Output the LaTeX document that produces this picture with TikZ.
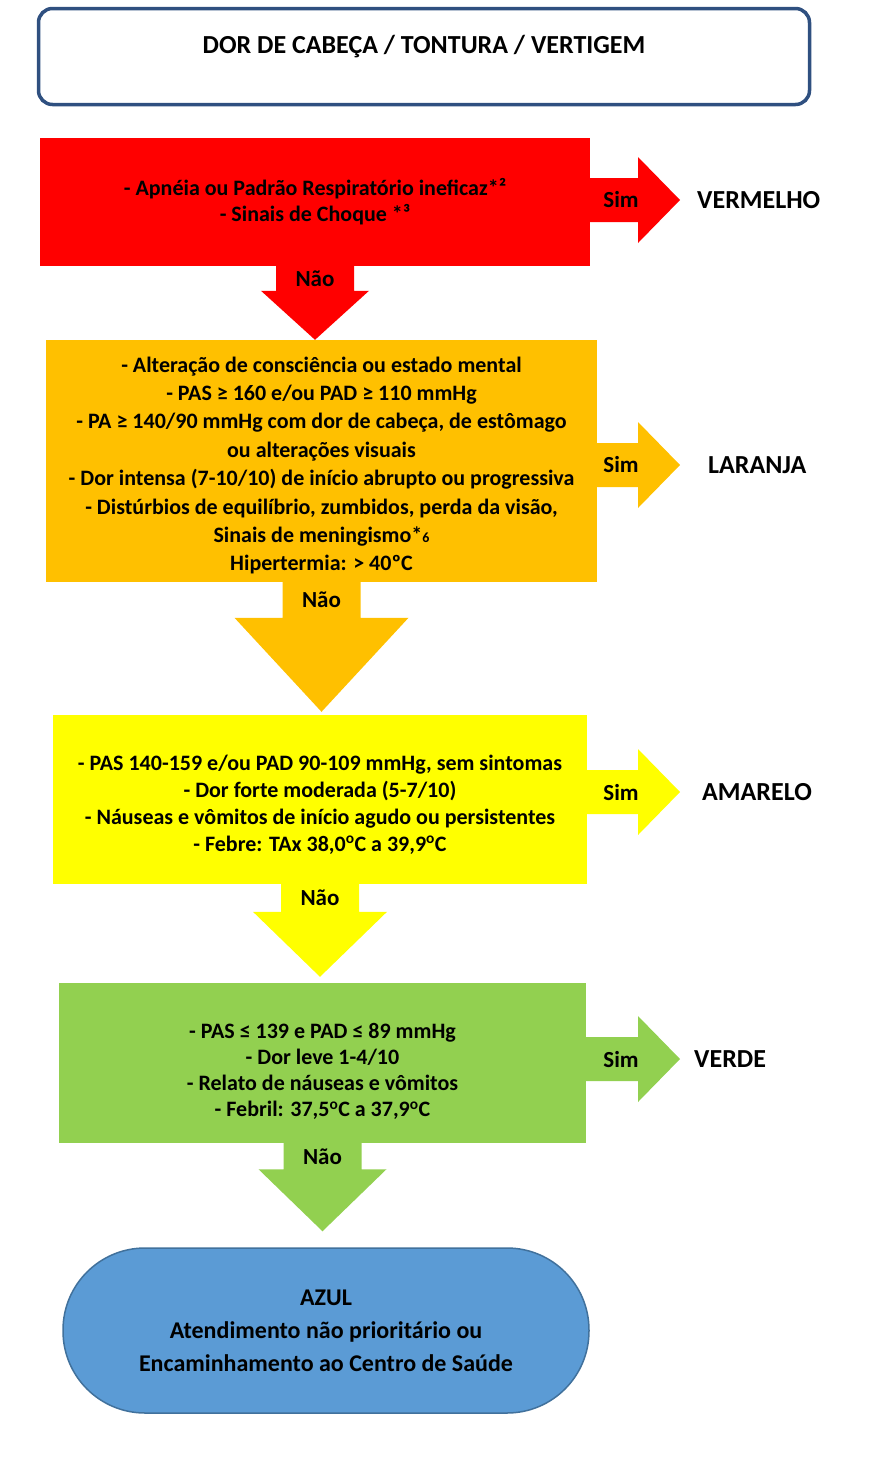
\documentclass[tikz,border=0pt]{standalone}
\usepackage{fontspec}
\setmainfont{Carlito}
\usetikzlibrary{calc,positioning}
\definecolor{titleblue}{HTML}{2F5080}
\definecolor{redlevel}{HTML}{FF0000}
\definecolor{orangelevel}{HTML}{FFC000}
\definecolor{yellowlevel}{HTML}{FFFF00}
\definecolor{greenlevel}{HTML}{92D050}
\definecolor{bluelevel}{HTML}{5B9BD5}
\definecolor{blueedge}{HTML}{41719C}
\tikzset{
  header/.style={draw=titleblue,fill=white,line width=3.5pt,rounded corners=14pt,
    minimum width=771pt,minimum height=96pt,font=\bfseries\fontsize{26}{28}\selectfont,
    text height=17pt,text depth=23pt},
  level/.style={align=center,inner sep=0pt,font=\bfseries\fontsize{22}{27}\selectfont},
  result/.style={anchor=west,inner sep=0pt,font=\bfseries\fontsize{26}{28}\selectfont},
  answer/.style={inner sep=0pt,font=\bfseries\fontsize{23}{24}\selectfont},
  final/.style={draw=blueedge,fill=bluelevel,line width=1.5pt,rounded corners=82pt,
    minimum width=526pt,minimum height=165pt,align=center,
    font=\bfseries\fontsize{24}{33}\selectfont}
}
% box, result, colour
\newcommand{\simarrow}[3]{%
  \fill[#3] let \p1=(#1.east), \p2=(tipline |- #2.west) in
    (\x1,\y2+22pt) -- (\x2-42pt,\y2+22pt) -- (\x2-42pt,\y2+43pt) -- (\x2,\y2)
    -- (\x2-42pt,\y2-43pt) -- (\x2-42pt,\y2-22pt) -- (\x1,\y2-22pt) -- cycle;
  \node[answer] (#1sim) at ([xshift=-59pt]tipline |- #2.west) {Sim};}
% box, tip, head half width, head length, colour
\newcommand{\naoarrow}[5]{%
  \fill[#5] let \p1=(#1.south), \p2=(#2) in
    (\x1-39pt,\y1) -- (\x1-39pt,\y2+#4pt) -- (\x1-#3pt,\y2+#4pt) -- (\x1,\y2)
    -- (\x1+#3pt,\y2+#4pt) -- (\x1+39pt,\y2+#4pt) -- (\x1+39pt,\y1) -- cycle;
  \path let \p1=(#1.south), \p2=(#2) in
    node[answer] (#1nao) at (\x1,{0.5*(\y1+\y2)+0.5*#4pt}) {Não};}

\begin{document}
\begin{tikzpicture}[x=1pt,y=-1pt]
  \useasboundingbox (0,0) rectangle (877,1484);
  \coordinate (tipline) at (680,0);

  \node[header] (title) at (424,56.5) {DOR DE CABEÇA / TONTURA / VERTIGEM};

  \node[level,fill=redlevel,minimum width=550pt,minimum height=128pt,
    font=\bfseries\fontsize{22}{26}\selectfont] (red) at (315,202)
    {- Apnéia ou Padrão Respiratório ineficaz*²\\- Sinais de Choque *³};
  \node[level,fill=orangelevel,minimum width=551pt,minimum height=242pt,
    font=\bfseries\fontsize{22}{28.4}\selectfont] (orange) at (321.5,461)
    {\rule{0pt}{24.5pt}- Alteração de consciência ou estado mental\\
     - PAS ≥ 160 e/ou PAD ≥ 110 mmHg\\
     - PA ≥ 140/90 mmHg com dor de cabeça, de estômago\\
     ou alterações visuais\\
     - Dor intensa (7-10/10) de início abrupto ou progressiva\\
     - Distúrbios de equilíbrio, zumbidos, perda da visão,\\
     Sinais de meningismo*{\fontsize{14}{14}\selectfont 6}\\
     Hipertermia: > 40ºC};
  \node[level,fill=yellowlevel,minimum width=534pt,minimum height=169pt] (yellow) at (320,799.5)
    {\rule{0pt}{25pt}- PAS 140-159 e/ou PAD 90-109 mmHg, sem sintomas\\
     - Dor forte moderada (5-7/10)\\
     - Náuseas e vômitos de início agudo ou persistentes\\
     - Febre: TAx 38,0\textsuperscript{o}C a 39,9\textsuperscript{o}C};
  \node[level,fill=greenlevel,minimum width=527pt,minimum height=160pt,
    font=\bfseries\fontsize{22}{26.3}\selectfont] (green) at (322.5,1063)
    {\rule{0pt}{32pt}- PAS ≤ 139 e PAD ≤ 89 mmHg\\
     - Dor leve 1-4/10\\
     - Relato de náuseas e vômitos\\
     - Febril: 37,5\textsuperscript{o}C a 37,9\textsuperscript{o}C};
  \node[final] (azul) at (326,1330.5)
    {AZUL\\Atendimento não prioritário ou\\Encaminhamento ao Centro de Saúde};

  \node[result] (vermelho) at (697,200) {VERMELHO};
  \node[result] (laranja) at (708,465) {LARANJA};
  \node[result] (amarelo) at (702,792) {AMARELO};
  \node[result] (verde) at (694,1059) {VERDE};

  % sim
  \simarrow{red}{vermelho}{redlevel}
  \simarrow{orange}{laranja}{orangelevel}
  \simarrow{yellow}{amarelo}{yellowlevel}
  \simarrow{green}{verde}{greenlevel}

  % nao
  \naoarrow{red}{orange.north}{54}{49}{redlevel}
  \naoarrow{orange}{[yshift=3pt]yellow.north}{87}{94}{orangelevel}
  \naoarrow{yellow}{[yshift=6pt]green.north}{67}{65}{yellowlevel}
  \naoarrow{green}{[yshift=16pt]azul.north}{64}{62}{greenlevel}
\end{tikzpicture}
\end{document}
